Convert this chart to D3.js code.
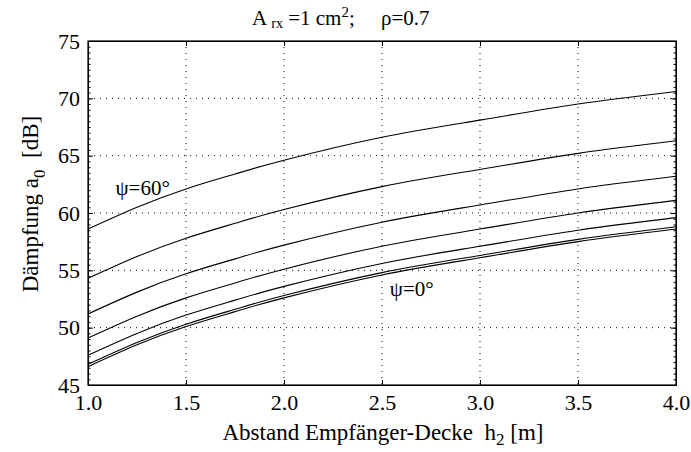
<!DOCTYPE html>
<html>
<head>
<meta charset="utf-8">
<script src="https://cdn.jsdelivr.net/npm/d3@7"></script>
<style>
  body { margin: 0; background: #fff; }
  svg text { font-family: "Liberation Serif", "Times New Roman", Times, serif; fill: #000; }
</style>
</head>
<body>
<div id="chart"></div>
<script>
// Data
const heights = [1.0, 1.25, 1.5, 1.75, 2.0, 2.5, 3.0, 3.5, 4.0]
const psi60 = [58.6, 60.5, 62.1, 63.4, 64.6, 66.6, 68.1, 69.5, 70.6]
const psi50 = [54.3, 56.2, 57.8, 59.1, 60.3, 62.3, 63.8, 65.2, 66.3]
const psi40 = [51.2, 53.1, 54.7, 56.0, 57.2, 59.2, 60.7, 62.1, 63.2]
const psi30 = [49.1, 51.0, 52.6, 53.9, 55.1, 57.1, 58.6, 60.0, 61.1]
const psi20 = [47.6, 49.5, 51.1, 52.4, 53.6, 55.6, 57.1, 58.5, 59.6]
const psi10 = [46.8, 48.7, 50.3, 51.6, 52.8, 54.8, 56.3, 57.7, 58.8]
const psi0  = [46.6, 48.5, 50.1, 51.4, 52.6, 54.6, 56.1, 57.5, 58.6]
const series = [psi60, psi50, psi40, psi30, psi20, psi10, psi0]

const xTicks = [1.0, 1.5, 2.0, 2.5, 3.0, 3.5, 4.0]
const yTicks = [45, 50, 55, 60, 65, 70, 75]
const labels = [
  { text: 'ψ=60°', h: 1.14, a: 61.6 },
  { text: 'ψ=0°', h: 2.54, a: 52.8 },
]

// Dimensions
const dimensions = {
  width: 691,
  height: 452,
  margins: { top: 41, right: 15, bottom: 67, left: 88 },
}
dimensions.ctrWidth = dimensions.width - dimensions.margins.left - dimensions.margins.right
dimensions.ctrHeight = dimensions.height - dimensions.margins.top - dimensions.margins.bottom

const svg = d3.select('#chart')
  .append('svg')
  .attr('width', dimensions.width)
  .attr('height', dimensions.height)

const ctr = svg.append('g')
  .attr('transform', `translate(${dimensions.margins.left}, ${dimensions.margins.top})`)

// Scales
const xScale = d3.scaleLinear()
  .domain([1, 4])
  .range([0, dimensions.ctrWidth])

const yScale = d3.scaleLinear()
  .domain([45, 75])
  .range([dimensions.ctrHeight, 0])

// Grid (dotted)
const grid = ctr.append('g')
  .attr('stroke', '#000')
  .attr('stroke-width', 1)
  .attr('stroke-dasharray', '1,5')

grid.selectAll('.vgrid')
  .data(xTicks.slice(1, -1))
  .join('line')
  .attr('x1', d => xScale(d)).attr('x2', d => xScale(d))
  .attr('y1', 0).attr('y2', dimensions.ctrHeight)

grid.selectAll('.hgrid')
  .data(yTicks.slice(1, -1))
  .join('line')
  .attr('y1', d => yScale(d)).attr('y2', d => yScale(d))
  .attr('x1', 0).attr('x2', dimensions.ctrWidth)

// Curves
const line = d3.line()
  .x((d, i) => xScale(heights[i]))
  .y(d => yScale(d))
  .curve(d3.curveNatural)

ctr.append('g')
  .selectAll('path')
  .data(series)
  .join('path')
  .attr('d', line)
  .attr('fill', 'none')
  .attr('stroke', '#000')
  .attr('stroke-width', 1.1)

// Axes (ticks pointing inward on all sides)
const fmt = d3.format('.1f')

const xAxis = d3.axisBottom(xScale)
  .tickValues(xTicks)
  .tickFormat(fmt)
  .tickSizeInner(-5)
  .tickSizeOuter(0)
  .tickPadding(10)

const yAxis = d3.axisLeft(yScale)
  .tickValues(yTicks)
  .tickSizeInner(-5)
  .tickSizeOuter(0)
  .tickPadding(8)

const xg = ctr.append('g')
  .attr('transform', `translate(0, ${dimensions.ctrHeight})`)
  .call(xAxis)
xg.selectAll('text').attr('font-size', 22).attr('dy', '0.68em')

const yg = ctr.append('g').call(yAxis)
yg.selectAll('text').attr('font-size', 22)

ctr.append('g')
  .call(d3.axisTop(xScale).tickValues(xTicks).tickFormat('').tickSizeInner(-5).tickSizeOuter(0))
ctr.append('g')
  .attr('transform', `translate(${dimensions.ctrWidth}, 0)`)
  .call(d3.axisRight(yScale).tickValues(yTicks).tickFormat('').tickSizeInner(-5).tickSizeOuter(0))

// minor ticks on y
const minor = d3.range(45, 75.01, 0.5)
ctr.append('g')
  .call(d3.axisLeft(yScale).tickValues(minor).tickFormat('').tickSizeInner(-2.5).tickSizeOuter(0))
ctr.append('g')
  .attr('transform', `translate(${dimensions.ctrWidth}, 0)`)
  .call(d3.axisRight(yScale).tickValues(minor).tickFormat('').tickSizeInner(-2.5).tickSizeOuter(0))

ctr.selectAll('.domain').attr('stroke', '#000')

// frame
ctr.append('rect')
  .attr('width', dimensions.ctrWidth)
  .attr('height', dimensions.ctrHeight)
  .attr('fill', 'none')
  .attr('stroke', '#000')
  .attr('stroke-width', 1.2)

// Curve labels
ctr.selectAll('.lbl')
  .data(labels)
  .join('text')
  .attr('x', d => xScale(d.h))
  .attr('y', d => yScale(d.a))
  .attr('font-size', 21)
  .text(d => d.text)

// Title
const title = svg.append('text')
  .attr('x', 252)
  .attr('y', 25)
  .attr('font-size', 21)
  .attr('xml:space', 'preserve')
title.append('tspan').text('A ')
title.append('tspan').attr('font-size', 14).attr('dy', 3).text('rx')
title.append('tspan').attr('dy', -3).text(' =1 cm')
title.append('tspan').attr('font-size', 15).attr('dy', -8).text('2')
title.append('tspan').attr('dy', 8).text(';     ρ=0.7')

// X label
const xl = svg.append('text')
  .attr('x', 383)
  .attr('y', 440)
  .attr('text-anchor', 'middle')
  .attr('font-size', 23)
  .attr('xml:space', 'preserve')
xl.append('tspan').text('Abstand Empfänger-Decke  h')
xl.append('tspan').attr('font-size', 17).attr('dy', 5).text('2')
xl.append('tspan').attr('dy', -5).text(' [m]')

// Y label
const yl = svg.append('text')
  .attr('transform', 'translate(38, 204) rotate(-90)')
  .attr('text-anchor', 'middle')
  .attr('font-size', 23)
  .attr('xml:space', 'preserve')
yl.append('tspan').text('Dämpfung a')
yl.append('tspan').attr('font-size', 17).attr('dy', 7).text('0')
yl.append('tspan').attr('dy', -7).text('  [dB]')
</script>
</body>
</html>
